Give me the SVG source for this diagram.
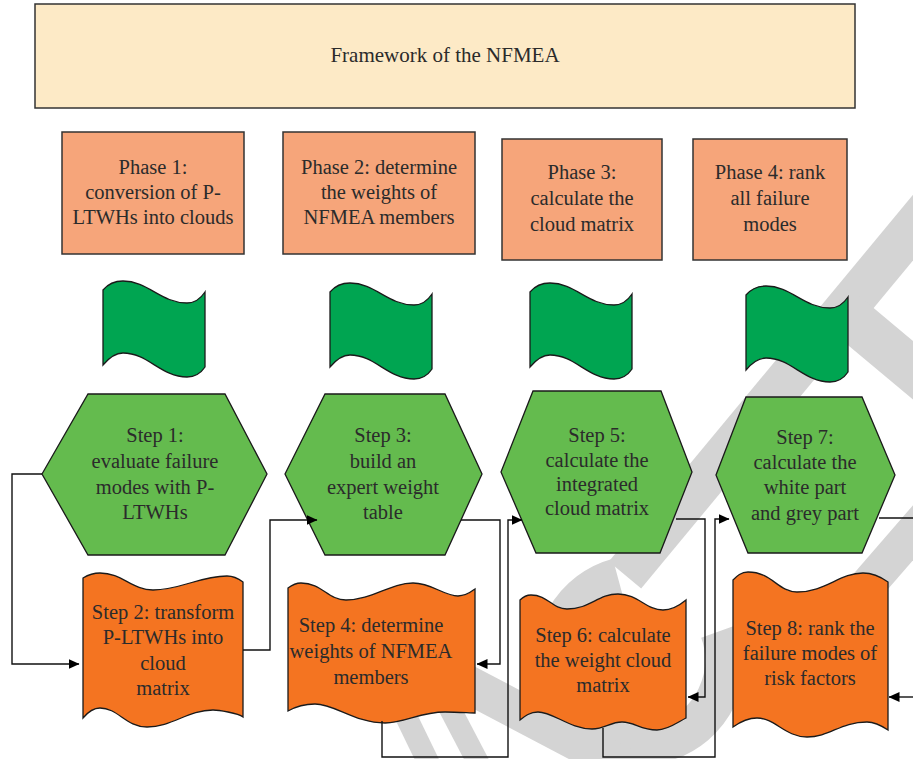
<svg xmlns="http://www.w3.org/2000/svg" width="913" height="759" viewBox="0 0 913 759">
<defs>
<style>
.t{font-family:"Liberation Serif","Times New Roman",serif;font-size:20.5px;fill:#2b2b2b;text-anchor:middle}
.title{fill:#fdeac6;stroke:#333;stroke-width:1.5}
.phase{fill:#f6a57a;stroke:#333;stroke-width:1.5}
.flag{fill:#00a551;stroke:#1a1a1a;stroke-width:1.3}
.hex{fill:#64bb4e;stroke:#1a1a1a;stroke-width:1.3}
.doc{fill:#f47421;stroke:#1a1a1a;stroke-width:1.3}
.wm{fill:none;stroke:#d4d4d4}
.c{fill:none;stroke:#111;stroke-width:1.4}
</style>
<marker id="ah" viewBox="0 0 11 10" refX="10.5" refY="5" markerWidth="11" markerHeight="10" markerUnits="userSpaceOnUse" orient="auto">
<path d="M0,0 L11,5 L0,10 Z" fill="#000"/>
</marker>
<path id="flagShape" d="M0,9 C5,3 12,0 20,0 C45,0 58,22 84,22 C92,22 98,17 102,11 L102,86 C98,92 92,96 84,96 C58,96 45,72 20,72 C12,72 5,78 0,84 Z"/>
</defs>

<g id="watermark">
<line class="wm" x1="625" y1="575" x2="965" y2="165" stroke-width="42"/>
<line class="wm" x1="835" y1="305" x2="945" y2="397" stroke-width="45"/>
<line class="wm" x1="820" y1="640" x2="950" y2="490" stroke-width="36"/>
<path class="wm" d="M618,578 A85,85 0 1 0 720,631" stroke-width="40"/>
<line class="wm" x1="450" y1="675" x2="640" y2="775" stroke-width="38"/>
<line class="wm" x1="398" y1="700" x2="432" y2="770" stroke-width="22"/>
<line class="wm" x1="448" y1="705" x2="482" y2="770" stroke-width="22"/>
</g>

<g id="title">
<rect class="title" x="35" y="4" width="820" height="104"/>
<text class="t" x="445" y="62" style="font-size:21px">Framework of the NFMEA</text>
</g>

<g id="phase1">
<rect class="phase" x="62" y="132" width="182" height="122"/>
<text class="t" x="153" y="174">Phase 1:</text>
<text class="t" x="153" y="199">conversion of P-</text>
<text class="t" x="153" y="224">LTWHs into clouds</text>
</g>
<g id="phase2">
<rect class="phase" x="283" y="132" width="192" height="122"/>
<text class="t" x="379" y="174">Phase 2: determine</text>
<text class="t" x="379" y="199">the weights of</text>
<text class="t" x="379" y="224">NFMEA members</text>
</g>
<g id="phase3">
<rect class="phase" x="502" y="139" width="160" height="121"/>
<text class="t" x="582" y="179">Phase 3:</text>
<text class="t" x="582" y="205">calculate the</text>
<text class="t" x="582" y="231">cloud matrix</text>
</g>
<g id="phase4">
<rect class="phase" x="693" y="139" width="154" height="121"/>
<text class="t" x="770" y="179">Phase 4: rank</text>
<text class="t" x="770" y="205">all failure</text>
<text class="t" x="770" y="231">modes</text>
</g>

<g id="flag1"><use href="#flagShape" class="flag" transform="translate(103,281)"/></g>
<g id="flag2"><use href="#flagShape" class="flag" transform="translate(330,283)"/></g>
<g id="flag3"><use href="#flagShape" class="flag" transform="translate(530,283)"/></g>
<g id="flag4"><use href="#flagShape" class="flag" transform="translate(746,286)"/></g>

<g id="step1">
<polygon class="hex" points="42,474 88,394 225,394 267,474 225,555 88,555"/>
<text class="t" x="155" y="442">Step 1:</text>
<text class="t" x="155" y="468">evaluate failure</text>
<text class="t" x="155" y="494">modes with P-</text>
<text class="t" x="155" y="519">LTWHs</text>
</g>
<g id="step3">
<polygon class="hex" points="285,474 325,394 445,394 482,474 445,555 325,555"/>
<text class="t" x="383" y="442">Step 3:</text>
<text class="t" x="383" y="468">build an</text>
<text class="t" x="383" y="494">expert weight</text>
<text class="t" x="383" y="519">table</text>
</g>
<g id="step5">
<polygon class="hex" points="501,472 533,391 661,391 692,472 660,553 536,553"/>
<text class="t" x="597" y="442">Step 5:</text>
<text class="t" x="597" y="467">calculate the</text>
<text class="t" x="597" y="491">integrated</text>
<text class="t" x="597" y="515">cloud matrix</text>
</g>
<g id="step7">
<polygon class="hex" points="716,475 746,397 862,397 895,475 862,553 748,553"/>
<text class="t" x="805" y="444">Step 7:</text>
<text class="t" x="805" y="469">calculate the</text>
<text class="t" x="805" y="494">white part</text>
<text class="t" x="805" y="520">and grey part</text>
</g>

<g id="step2">
<path class="doc" d="M83,578 C88,575 94,573 100,573 C122,573 132,590 153,590 C180,590 200,576 227,576 C234,576 239,579 243,582 L243,717 C238,713 218,710 213,710 C188,710 172,727 147,727 C126,727 118,708 100,708 C94,708 88,712 83,718 Z"/>
<text class="t" x="163" y="619">Step 2: transform</text>
<text class="t" x="163" y="644">P-LTWHs into</text>
<text class="t" x="163" y="670">cloud</text>
<text class="t" x="163" y="695">matrix</text>
</g>
<g id="step4">
<path class="doc" d="M288,588 C292,585 296,583 301,583 C322,583 328,600 346,600 C372,600 390,583 413,583 C432,583 444,596 458,596 C466,596 471,592 475,589 L475,713 C470,713 458,712 445,712 C420,712 405,723 385,723 C355,723 335,704 315,704 C302,704 295,707 288,711 Z"/>
<text class="t" x="371" y="632">Step 4: determine</text>
<text class="t" x="371" y="658">weights of NFMEA</text>
<text class="t" x="371" y="684">members</text>
</g>
<g id="step6">
<path class="doc" d="M520,600 C523,597 526,595 531,595 C548,595 552,609 567,609 C590,609 598,594 618,594 C638,594 646,610 663,610 C673,610 680,605 686,600 L686,718 C678,722 668,730 657,730 C640,730 635,722 622,722 C610,722 605,729 592,729 C570,729 553,712 538,712 C530,712 525,716 520,720 Z"/>
<text class="t" x="603" y="642">Step 6: calculate</text>
<text class="t" x="603" y="667">the weight cloud</text>
<text class="t" x="603" y="692">matrix</text>
</g>
<g id="step8">
<path class="doc" d="M733,580 C737,576 741,572 748,572 C772,572 778,592 797,592 C825,592 840,573 863,573 C873,573 881,577 888,582 L888,730 C882,726 875,722 867,722 C840,722 830,737 807,737 C785,737 775,718 757,718 C748,718 740,722 733,727 Z"/>
<text class="t" x="810" y="635">Step 8: rank the</text>
<text class="t" x="810" y="660">failure modes of</text>
<text class="t" x="810" y="685">risk factors</text>
</g>

<g id="connectors">
<polyline class="c" points="42,474 12,474 12,664 79,664" marker-end="url(#ah)"/>
<polyline class="c" points="243,650 270,650 270,520 317,520" marker-end="url(#ah)"/>
<polyline class="c" points="461,520 500,520 500,664 477,664" marker-end="url(#ah)"/>
<polyline class="c" points="382,721 382,757 508,757 508,520 522,520" marker-end="url(#ah)"/>
<polyline class="c" points="676,519 705,519 705,697 688,697" marker-end="url(#ah)"/>
<polyline class="c" points="603,728 603,757 715,757 715,519 729,519" marker-end="url(#ah)"/>
<polyline class="c" points="879,518 913,518"/>
<polyline class="c" points="913,697 889,697" marker-end="url(#ah)"/>
</g>
</svg>
